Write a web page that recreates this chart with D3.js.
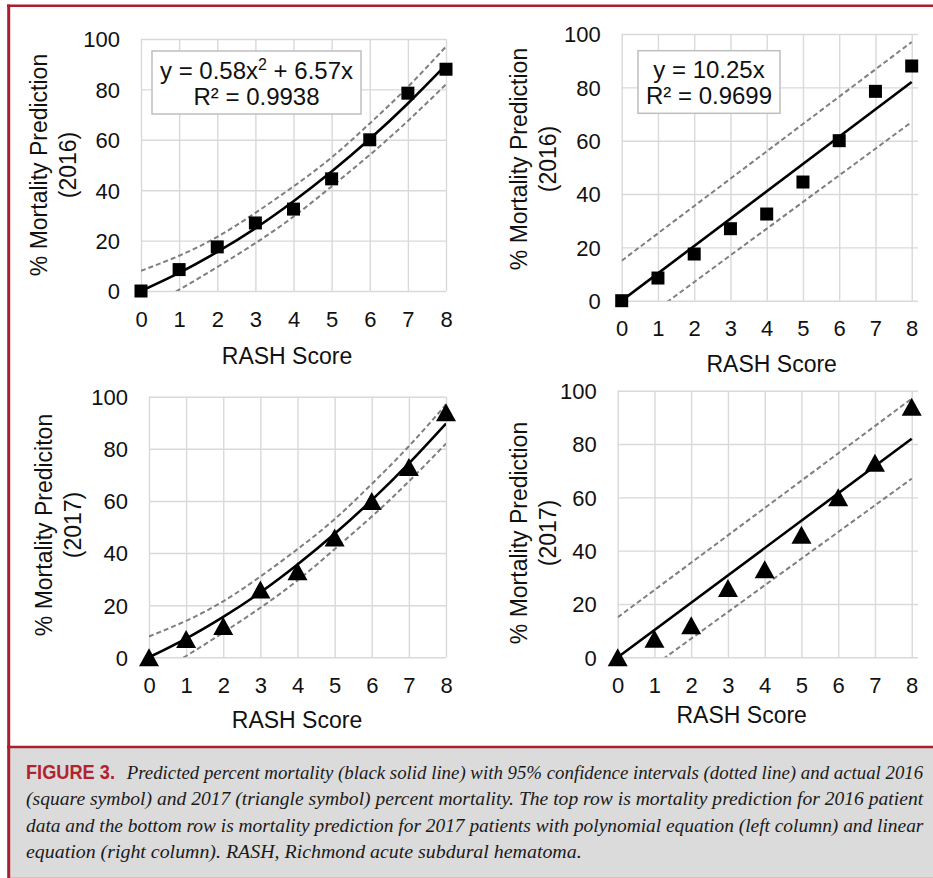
<!DOCTYPE html>
<html>
<head>
<meta charset="utf-8">
<script src="https://cdn.jsdelivr.net/npm/d3@7"></script>
<style>
  html, body { margin: 0; padding: 0; background: #fff; }
  #chart { width: 933px; height: 878px; }
</style>
</head>
<body>
<div id="chart"></div>
<script>
// ---- data ----
const scores = [0, 1, 2, 3, 4, 5, 6, 7, 8];
const mortality2016 = [0, 8.5, 17.5, 27, 32.5, 44.5, 60, 78.5, 88];
const mortality2017 = [0, 7, 12, 26, 33, 46, 60, 73, 94];

// polynomial fit y = 0.58x^2 + 6.57x and its 95% band
const polyFit = [0, 7.2, 15.5, 24.9, 35.6, 47.4, 60.3, 74.4, 89.7];
const polyUpper = [8, 14, 21.5, 31, 41.5, 53, 66.5, 81, 97];
const polyLower = [-8, 0.5, 9.5, 19, 29.5, 41.5, 54, 67.5, 82];

// linear fit y = 10.25x and its 95% band (end points)
const linearX = [0, 8];
const linearFit = [0, 82];
const linearUpper = [15, 97];
const linearLower = [-13, 67];

const yTicks = [0, 20, 40, 60, 80, 100];
const xTicks = scores;

const polyEquation = ['y = 0.58x', '2', ' + 6.57x'];
const polyR2 = 'R² = 0.9938';
const linearEquation = ['y = 10.25x'];
const linearR2 = 'R² = 0.9699';

const xTitle = 'RASH Score';
const yTitles2016 = ['% Mortality Prediction', '(2016)'];
const yTitles2017a = ['% Mortality Prediciton', '(2017)'];
const yTitles2017b = ['% Mortality Prediction', '(2017)'];

const captionLabel = 'FIGURE 3.';
const captionLines = [
  'Predicted percent mortality (black solid line) with 95% confidence intervals (dotted line) and actual 2016',
  '(square symbol) and 2017 (triangle symbol) percent mortality. The top row is mortality prediction for 2016 patient',
  'data and the bottom row is mortality prediction for 2017 patients with polynomial equation (left column) and linear',
  'equation (right column). RASH, Richmond acute subdural hematoma.'
];

// ---- layout ----
const W = 933, H = 878;
const RED = '#ab1f2c';
const SANS = '"Liberation Sans", Arial, sans-serif';
const SERIF = '"Liberation Serif", "Times New Roman", serif';
const TICK_FS = 22, TITLE_FS = 23, EQ_FS = 24;

const svg = d3.select('#chart').append('svg')
  .attr('width', W).attr('height', H)
  .attr('viewBox', [0, 0, W, H])
  .attr('font-family', SANS);

const defs = svg.append('defs');

const panels = [
  {
    id: 'p1', left: 141, right: 446, gridRight: 446, top: 39, bottom: 291,
    x: scores, values: mortality2016, marker: 'square',
    fitX: scores, fit: polyFit, upper: polyUpper, lower: polyLower, curve: d3.curveNatural,
    yTitle: yTitles2016, titleX: [46.7, 76], titleY: 165, xTitleX: 287, xTitleY: 364,
    eq: { parts: polyEquation, r2: polyR2, x0: 152, y0: 51, w: 209, h: 63 }
  },
  {
    id: 'p2', left: 621.7, right: 911.7, gridRight: 918, top: 34, bottom: 300.7,
    x: scores, values: mortality2016, marker: 'square',
    fitX: linearX, fit: linearFit, upper: linearUpper, lower: linearLower, curve: d3.curveLinear,
    yTitle: yTitles2016, titleX: [526.7, 556], titleY: 159, xTitleX: 771.7, xTitleY: 371.5,
    eq: { parts: linearEquation, r2: linearR2, x0: 638, y0: 50.7, w: 142, h: 62.6 }
  },
  {
    id: 'p3', left: 149, right: 446, gridRight: 446, top: 396.7, bottom: 657.3,
    x: scores, values: mortality2017, marker: 'triangle',
    fitX: scores, fit: polyFit, upper: polyUpper, lower: polyLower, curve: d3.curveNatural,
    yTitle: yTitles2017a, titleX: [51.7, 80.5], titleY: 525, xTitleX: 297, xTitleY: 728
  },
  {
    id: 'p4', left: 617.7, right: 911.7, gridRight: 918, top: 390.7, bottom: 657.3,
    x: scores, values: mortality2017, marker: 'triangle',
    fitX: linearX, fit: linearFit, upper: linearUpper, lower: linearLower, curve: d3.curveLinear,
    yTitle: yTitles2017b, titleX: [526.7, 556], titleY: 533, xTitleX: 741.7, xTitleY: 723
  }
];

panels.forEach(drawPanel);
drawFrame();

function drawPanel(p) {
  const g = svg.append('g').attr('class', 'panel ' + p.id);

  const x = d3.scaleLinear().domain([0, 8]).range([p.left, p.right]);
  const y = d3.scaleLinear().domain([0, 100]).range([p.bottom, p.top]);

  // gridlines
  const gx = g.append('g')
    .attr('transform', `translate(0,${p.bottom})`)
    .call(d3.axisBottom(x).tickValues(xTicks).tickSize(-(p.bottom - p.top)).tickFormat(''));
  const gy = g.append('g')
    .attr('transform', `translate(${p.left},0)`)
    .call(d3.axisLeft(y).tickValues(yTicks).tickSize(-(p.gridRight - p.left)).tickFormat(''));
  [gx, gy].forEach(a => {
    a.select('.domain').remove();
    a.selectAll('line').attr('stroke', '#d9d9d9').attr('stroke-width', 1.4);
  });

  // tick labels
  const lx = g.append('g')
    .attr('transform', `translate(0,${p.bottom})`)
    .call(d3.axisBottom(x).tickValues(xTicks).tickSize(0).tickFormat(d3.format('d')));
  lx.select('.domain').remove();
  lx.attr('font-family', SANS).attr('font-size', TICK_FS);
  lx.selectAll('text')
    .attr('y', 35.7).attr('dy', null)
    .attr('fill', '#111');

  const ly = g.append('g')
    .attr('transform', `translate(${p.left},0)`)
    .call(d3.axisLeft(y).tickValues(yTicks).tickSize(0).tickFormat(d3.format('d')));
  ly.select('.domain').remove();
  ly.attr('font-family', SANS).attr('font-size', TICK_FS);
  ly.selectAll('text')
    .attr('x', -21).attr('dy', '0.36em')
    .attr('fill', '#111');

  // axis titles
  g.append('text')
    .attr('x', p.xTitleX).attr('y', p.xTitleY)
    .attr('text-anchor', 'middle').attr('font-size', TITLE_FS).attr('fill', '#111')
    .text(xTitle);

  p.yTitle.forEach((t, i) => {
    g.append('text')
      .attr('transform', `translate(${p.titleX[i]},${p.titleY}) rotate(-90)`)
      .attr('text-anchor', 'middle').attr('font-size', TITLE_FS).attr('fill', '#111')
      .text(t);
  });

  // clip for fit lines
  defs.append('clipPath').attr('id', 'clip-' + p.id)
    .append('rect')
    .attr('x', p.left).attr('y', p.top - 2)
    .attr('width', p.gridRight - p.left).attr('height', p.bottom - p.top + 2);

  const line = d3.line()
    .x(d => x(d[0]))
    .y(d => y(d[1]))
    .curve(p.curve);

  const lines = g.append('g').attr('clip-path', `url(#clip-${p.id})`);
  [p.upper, p.lower].forEach(band => {
    lines.append('path')
      .datum(p.fitX.map((v, i) => [v, band[i]]))
      .attr('d', line)
      .attr('fill', 'none')
      .attr('stroke', '#7f7f7f')
      .attr('stroke-width', 2)
      .attr('stroke-dasharray', '5,3');
  });
  lines.append('path')
    .datum(p.fitX.map((v, i) => [v, p.fit[i]]))
    .attr('d', line)
    .attr('fill', 'none')
    .attr('stroke', '#000')
    .attr('stroke-width', 2.6);

  // markers
  const pts = p.x.map((v, i) => [v, p.values[i]]);
  const markerPath = p.marker === 'square'
    ? d3.symbol(d3.symbolSquare, 13 * 13)()
    : 'M0,-9L10,9L-10,9Z';
  g.append('g').selectAll('path')
    .data(pts)
    .enter()
    .append('path')
    .attr('d', markerPath)
    .attr('transform', d => `translate(${x(d[0])},${y(d[1])})`)
    .attr('fill', '#000');

  // equation box
  if (p.eq) {
    const e = p.eq;
    g.append('rect')
      .attr('x', e.x0).attr('y', e.y0).attr('width', e.w).attr('height', e.h)
      .attr('fill', '#fff').attr('stroke', '#bfbfbf').attr('stroke-width', 1.5);
    const cx = e.x0 + e.w / 2;
    const t1 = g.append('text')
      .attr('x', cx).attr('y', e.y0 + 27.5)
      .attr('text-anchor', 'middle').attr('font-size', EQ_FS).attr('fill', '#111');
    e.parts.forEach((part, i) => {
      const ts = t1.append('tspan').text(part);
      if (i === 1) ts.attr('font-size', 16).attr('dy', -9);
      if (i === 2) ts.attr('dy', 9);
    });
    g.append('text')
      .attr('x', cx).attr('y', e.y0 + 53.5)
      .attr('text-anchor', 'middle').attr('font-size', EQ_FS).attr('fill', '#111')
      .text(e.r2);
  }
}

// squeeze a text horizontally so that it spans exactly `width`
function fitWidth(sel, x0, y0, width) {
  const w = sel.node().getComputedTextLength();
  sel.attr('transform', `translate(${x0},${y0}) scale(${width / w},1)`);
}

function drawFrame() {
  // caption background
  svg.append('rect')
    .attr('x', 9).attr('y', 747).attr('width', W - 9).attr('height', 130)
    .attr('fill', '#dcdbdb');
  svg.append('line')
    .attr('x1', 9).attr('x2', W).attr('y1', 877.5).attr('y2', 877.5)
    .attr('stroke', '#e2b8bc').attr('stroke-width', 1);

  // red rules
  svg.append('line')
    .attr('x1', 7).attr('x2', W).attr('y1', 5.8).attr('y2', 5.8)
    .attr('stroke', RED).attr('stroke-width', 2.6);
  svg.append('line')
    .attr('x1', 7).attr('x2', W).attr('y1', 747).attr('y2', 747)
    .attr('stroke', RED).attr('stroke-width', 2.6);
  svg.append('line')
    .attr('x1', 8.7).attr('x2', 8.7).attr('y1', 4.5).attr('y2', 878)
    .attr('stroke', RED).attr('stroke-width', 3);

  // caption text
  const label = svg.append('text')
    .attr('font-family', SANS)
    .attr('font-weight', 'bold').attr('font-size', 19.5)
    .attr('fill', '#b2232f')
    .text(captionLabel);
  fitWidth(label, 26, 778.5, 89);

  const baselines = [778.5, 805, 831.5, 858.3];
  const starts = [126.7, 26, 26, 26];
  const ends = [924, 924, 924, 582];

  // the figure's italic face is narrower than Times, so each line is squeezed to its width
  captionLines.forEach((t, i) => {
    const txt = svg.append('text')
      .attr('font-family', SERIF)
      .attr('font-style', 'italic').attr('font-size', 19.5)
      .attr('fill', '#1a1a1a')
      .text(t);
    fitWidth(txt, starts[i], baselines[i], ends[i] - starts[i]);
  });
}
</script>
</body>
</html>
